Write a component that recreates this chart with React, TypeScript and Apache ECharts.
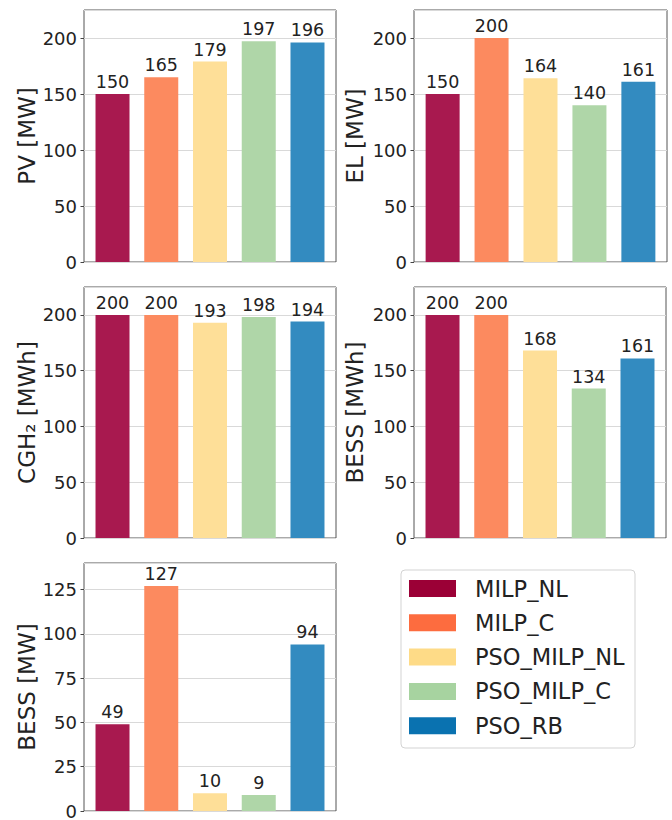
import React, { useEffect, useRef } from "react";
import * as echarts from "echarts";

const methods = ["MILP_NL", "MILP_C", "PSO_MILP_NL", "PSO_MILP_C", "PSO_RB"];
const pvMW = [150, 165, 179, 197, 196];
const elMW = [150, 200, 164, 140, 161];
const cgh2MWh = [200, 200, 193, 198, 194];
const bessMWh = [200, 200, 168, 134, 161];
const bessMW = [49, 127, 10, 9, 94];

const barColors = ["#a8194f", "#fc8a5f", "#fedf98", "#afd6a8", "#338bc0"];
const legendColors = ["#9b0036", "#fd6c3f", "#fedb87", "#a7d3a0", "#0a72b0"];

const FONT = "DejaVu Sans";

const panels = [
  { name: "PV [MW]", data: pvMW, max: 225, interval: 50, grid: { left: 84, top: 10, width: 252, height: 252 }, gap: 46 },
  { name: "EL [MW]", data: elMW, max: 225, interval: 50, grid: { left: 414, top: 10, width: 253, height: 252 }, gap: 48 },
  { name: "CGH\u2082 [MWh]", data: cgh2MWh, max: 225, interval: 50, grid: { left: 84, top: 287, width: 252, height: 251 }, gap: 46 },
  { name: "BESS [MWh]", data: bessMWh, max: 225, interval: 50, grid: { left: 414, top: 287, width: 252, height: 251 }, gap: 48 },
  { name: "BESS [MW]", data: bessMW, max: 140, interval: 25, grid: { left: 84, top: 563, width: 252, height: 252 }, gap: 46 },
];

export default function App() {
  const ref = useRef<HTMLDivElement>(null);
  useEffect(() => {
    document.body.style.margin = "0";
    const chart = echarts.init(ref.current!, null, { renderer: "svg" });
    const grids = panels.map((p) => ({
      ...p.grid,
      show: true,
      borderColor: "#555",
      borderWidth: 1,
      backgroundColor: "transparent",
      containLabel: false,
    }));
    const xAxes = panels.map((_, i) => ({
      type: "value",
      gridIndex: i,
      min: -0.585,
      max: 4.585,
      axisLine: { show: false, onZero: false },
      axisTick: { show: false },
      axisLabel: { show: false },
      splitLine: { show: false },
    }));
    const yAxes = panels.map((p, i) => ({
      type: "value",
      gridIndex: i,
      position: "left",
      min: 0,
      max: p.max,
      interval: p.interval,
      name: p.name,
      nameLocation: "middle",
      nameGap: p.gap,
      nameTextStyle: { fontSize: 23, color: "#222", fontFamily: FONT },
      axisLine: { show: false, onZero: false },
      axisTick: { show: true, length: 3.5, lineStyle: { color: "#444", width: 1 } },
      axisLabel: { fontSize: 18, color: "#222", fontFamily: FONT, margin: 7, showMaxLabel: false },
      splitLine: { show: true, lineStyle: { color: "#d9d9d9", width: 1 } },
    }));
    const series = panels.map((p, i) => ({
      type: "bar",
      xAxisIndex: i,
      yAxisIndex: i,
      barWidth: 34,
      data: p.data.map((v, j) => ({
        value: [j, v],
        itemStyle: { color: barColors[j] },
      })),
      label: {
        show: true,
        position: "top",
        distance: 3,
        fontSize: 17.5,
        color: "#222",
        fontFamily: FONT,
        formatter: (params: any) => String(params.value[1]),
      },
    }));
    const legendX = 401;
    const legendY = 570;
    const rowH = 34.3;
    const graphic: any[] = [
      {
        type: "rect",
        shape: { x: legendX, y: legendY, width: 234, height: 178, r: 4 },
        style: { fill: "#fff", stroke: "#d3d3d3", lineWidth: 1 },
      },
    ];
    methods.forEach((m, k) => {
      graphic.push({
        type: "rect",
        shape: { x: 409, y: 580 + k * rowH, width: 47, height: 17 },
        style: { fill: legendColors[k] },
      });
      graphic.push({
        type: "text",
        x: 475,
        y: 588.5 + k * rowH,
        style: {
          text: m,
          fontSize: 22.5,
          fontFamily: FONT,
          fill: "#222",
          verticalAlign: "middle",
          align: "left",
        },
      });
    });
    chart.setOption({
      animation: false,
      backgroundColor: "#fff",
      grid: grids,
      xAxis: xAxes,
      yAxis: yAxes,
      series,
      graphic,
    } as any);
    return () => chart.dispose();
  }, []);
  return <div ref={ref} style={{ width: 672, height: 820 }} />;
}
